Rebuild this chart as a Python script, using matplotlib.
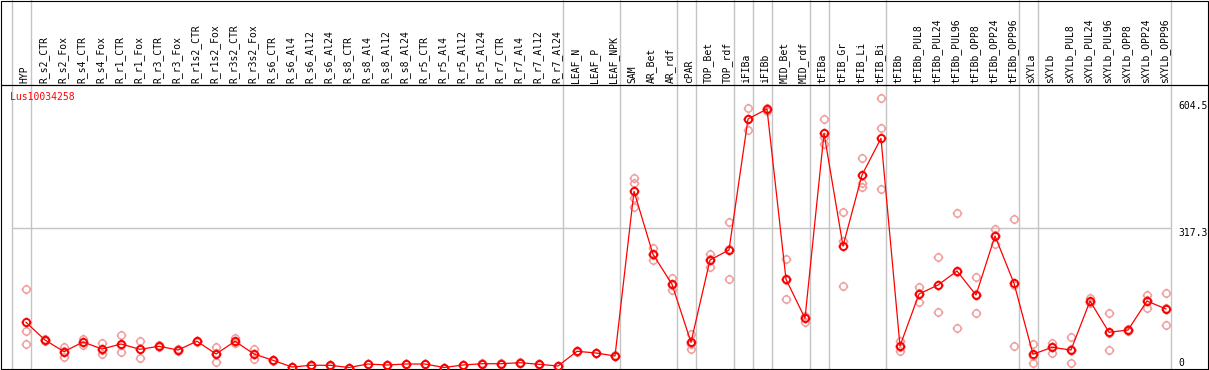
import matplotlib
matplotlib.use('Agg')
import matplotlib.pyplot as plt
from matplotlib.path import Path
from matplotlib.patches import Rectangle

# ---------------- data ----------------
samples = ['HYP', 'R_s2_CTR', 'R_s2_Fox', 'R_s4_CTR', 'R_s4_Fox', 'R_r1_CTR', 'R_r1_Fox',
           'R_r3_CTR', 'R_r3_Fox', 'R_r1s2_CTR', 'R_r1s2_Fox', 'R_r3s2_CTR', 'R_r3s2_Fox',
           'R_s6_CTR', 'R_s6_Al4', 'R_s6_Al12', 'R_s6_Al24', 'R_s8_CTR', 'R_s8_Al4',
           'R_s8_Al12', 'R_s8_Al24', 'R_r5_CTR', 'R_r5_Al4', 'R_r5_Al12', 'R_r5_Al24',
           'R_r7_CTR', 'R_r7_Al4', 'R_r7_Al12', 'R_r7_Al24', 'LEAF_N', 'LEAF_P', 'LEAF_NPK',
           'SAM', 'AR_Bet', 'AR_rdf', 'cPAR', 'TOP_Bet', 'TOP_rdf', 'iFIBa', 'iFIBb',
           'MID_Bet', 'MID_rdf', 'tFIBa', 'tFIB_Gr', 'tFIB_Li', 'tFIB_Bi', 'tFIBb',
           'tFIBb_PUL8', 'tFIBb_PUL24', 'tFIBb_PUL96', 'tFIBb_OPP8', 'tFIBb_OPP24',
           'tFIBb_OPP96', 'sXYLa', 'sXYLb', 'sXYLb_PUL8', 'sXYLb_PUL24', 'sXYLb_PUL96',
           'sXYLb_OPP8', 'sXYLb_OPP24', 'sXYLb_OPP96']

means = [102.6, 62.4, 35.9, 57.9, 42.0, 53.3, 41.3, 48.1, 39.7, 59.7, 30.6, 59.5, 30.6,
         16.3, 1.1, 5.0, 5.0, 0.0, 7.9, 5.7, 7.9, 7.9, 0.0, 5.7, 8.6, 8.6, 10.9, 7.3, 3.4,
         36.8, 32.9, 26.1,
         399.9, 256.9, 188.8, 57.2, 244.0, 266.7, 564.0, 586.7, 200.2, 111.7,
         531.5, 275.8, 436.9, 520.2,
         48.8, 166.8, 187.2, 219.0, 164.5, 298.5, 191.1,
         30.0, 45.8, 39.7, 150.9, 79.9, 85.1, 150.9, 132.8]

replicates = [
    [178.2, 82.8, 53.3], [60.0, 63.0, 64.0], [45.8, 37.0, 24.5], [64.7, 58.5, 50.4],
    [56.3, 40.0, 30.0], [73.8, 52.0, 34.5], [60.1, 41.0, 22.2], [46.0, 49.0, 50.0],
    [37.0, 40.0, 42.0], [58.0, 60.0, 61.0], [47.2, 32.0, 12.5], [67.0, 56.5, 55.6],
    [41.3, 30.5, 20.0], [15.0, 16.5, 17.5], [0.5, 1.0, 1.8], [4.0, 5.0, 6.0],
    [4.5, 5.0, 5.5], [0.0, 0.0, 0.0], [7.0, 8.0, 8.7], [5.0, 5.7, 6.4],
    [7.2, 8.0, 8.5], [7.0, 8.0, 8.7], [0.0, 0.0, 0.0], [5.0, 5.7, 6.4],
    [8.0, 8.6, 9.2], [8.0, 8.6, 9.2], [10.0, 11.0, 11.7], [6.5, 7.3, 8.1],
    [3.0, 3.4, 3.8], [35.5, 37.0, 38.0], [32.0, 33.0, 33.8], [25.0, 26.0, 27.3],
    [430.1, 418.7, 384.0, 365.4], [270.5, 255.5, 244.7], [202.4, 187.5, 176.6],
    [76.7, 53.6, 41.3], [256.9, 246.3, 228.8], [329.5, 268.0, 200.9],
    [588.3, 564.7, 539.0], [590.0, 587.0, 583.0], [246.3, 199.5, 154.8],
    [117.6, 113.6, 103.9], [563.3, 523.8, 507.3], [352.2, 287.8, 185.0],
    [474.8, 419.4, 410.3], [611.0, 542.9, 404.4], [60.8, 47.5, 38.1],
    [182.7, 169.0, 148.7], [250.1, 186.2, 125.3], [350.0, 217.4, 89.6],
    [204.7, 165.8, 123.0], [314.3, 300.9, 280.3], [336.4, 188.1, 48.8],
    [53.3, 27.2, 9.5], [56.3, 47.5, 33.6], [68.5, 41.1, 9.5],
    [157.1, 148.5, 147.1], [123.0, 77.7, 39.0], [83.5, 85.1, 86.6],
    [164.5, 152.5, 135.7], [168.4, 134.2, 95.8]]

group_sizes = [1, 28, 3, 3, 1, 2, 1, 1, 2, 1, 3, 7, 1, 7]
axis_values = [604.5, 317.3, 0.0]
axis_labels = ['604.5', '317.3', '0']
mid_value = 317.3
gene = 'Lus10034258'

# ---------------- layout ----------------
W, H = 1209, 370
fig = plt.figure(figsize=(W / 100, H / 100), dpi=100)
left_px, right_px, top_px, bot_px = 1, 1208, 85, 369
ax = fig.add_axes([left_px / W, 1 - bot_px / H,
                   (right_px - left_px) / W, (bot_px - top_px) / H])
x0_px, dx_px = 26.0, 19.0
ax.set_xlim((left_px - x0_px) / dx_px, (right_px - x0_px) / dx_px)
y0_px, kpx = 367.5, 0.4406
ax.set_ylim((y0_px - bot_px) / kpx, (y0_px - top_px) / kpx)
ax.set_xticks([])
ax.set_yticks([])
for s in ax.spines.values():
    s.set_color('black')
    s.set_linewidth(0.8)

# header frame
fig.patches.append(Rectangle((left_px / W, 1 - top_px / H), (right_px - left_px) / W,
                             (top_px - 0.7) / H, transform=fig.transFigure,
                             fill=False, ec='black', lw=0.8))

mono = 'DejaVu Sans Mono'
head_ext = 1 + top_px / (bot_px - top_px)
off = 4.7 / dx_px
grey = '#c4c4c4'

# group separators
seps = [-1 + off]
acc = 0
for g in group_sizes:
    acc += g
    seps.append(acc - 1 + off)
for xs in seps:
    ax.axvline(xs, ymin=0, ymax=head_ext, color=grey, lw=1.0, clip_on=False, zorder=0)
ax.hlines(mid_value, seps[0], seps[-1], color=grey, lw=1.0, zorder=0)

# marker: circle with small outer ticks
r1, r2 = 1.0, 1.35
ticks = Path([(r1, 0), (r2, 0), (-r1, 0), (-r2, 0), (0, r1), (0, r2), (0, -r1), (0, -r2)],
             [Path.MOVETO, Path.LINETO] * 4)
marker = Path.make_compound_path(Path.unit_circle(), ticks)

xs_all = list(range(len(samples)))
for i, reps in enumerate(replicates):
    ax.plot([i] * len(reps), reps, ls='none', marker=marker, ms=7.0, mfc='none',
            mec='#f0a0a0', mew=1.1, zorder=2, clip_on=False)
ax.plot(xs_all, means, color='red', lw=0.9, zorder=3, clip_on=False)
ax.plot(xs_all, means, ls='none', marker=marker, ms=7.0, mfc='none', mec='red',
        mew=1.4, zorder=4, clip_on=False)

# sample labels
for i, s in enumerate(samples):
    ax.text(i - 0.08, 1 + 2 / (bot_px - top_px), s, transform=ax.get_xaxis_transform(),
            rotation=90, ha='center', va='bottom', fontsize=7, family=mono, clip_on=False)

# value labels on right
xlab = (1178 - x0_px) / dx_px
for v, lab in zip(axis_values, axis_labels):
    ax.text(xlab, v, lab, ha='left', va='top' if v > 0 else 'bottom', fontsize=7,
            family=mono)

# gene name
ax.text((10 - x0_px) / dx_px, (y0_px - 97) / kpx, gene, color='red', ha='left',
        va='center', fontsize=7, family=mono)

fig.savefig('out.png', dpi=100)
